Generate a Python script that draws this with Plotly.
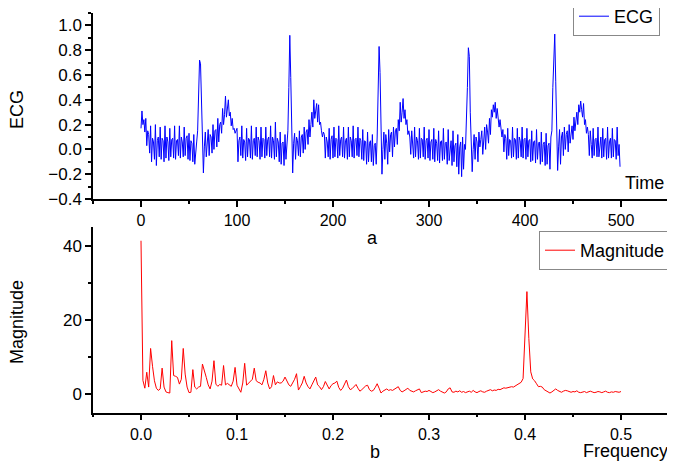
import plotly.graph_objects as go

# ECG samples (one per time step, 0..499)
ECG = [
    0.17, 0.31, 0.20, 0.24, 0.14, 0.25, 0.03, 0.15, 0.12, -0.03,
    0.19, -0.10, 0.09, 0.06, -0.08, 0.20, -0.13, 0.07, 0.10, -0.06,
    0.18, -0.08, 0.09, 0.07, -0.10, 0.19, -0.07, 0.10, 0.06, -0.09,
    0.17, -0.06, 0.08, 0.09, -0.07, 0.19, -0.08, 0.07, 0.08, -0.05,
    0.19, -0.07, 0.10, 0.06, -0.06, 0.18, -0.05, 0.09, 0.11, -0.08,
    0.13, -0.09, 0.07, 0.05, -0.10, 0.12, -0.12, 0.02, 0.06, 0.15,
    0.45, 0.72, 0.69, 0.42, 0.04, -0.19, 0.02, 0.14, -0.06, 0.10,
    0.16, -0.05, 0.12, 0.10, -0.03, 0.20, 0.00, 0.15, 0.16, 0.02,
    0.25, 0.06, 0.20, 0.22, 0.13, 0.33, 0.20, 0.28, 0.43, 0.26,
    0.34, 0.40, 0.27, 0.30, 0.19, 0.25, 0.16, 0.17, 0.13, 0.15,
    0.17, -0.10, 0.07, 0.10, -0.05, 0.19, -0.07, 0.08, 0.06, -0.09,
    0.17, -0.06, 0.09, 0.08, -0.07, 0.19, -0.08, 0.07, 0.09, -0.05,
    0.18, -0.06, 0.10, 0.07, -0.08, 0.18, -0.06, 0.09, 0.08, -0.07,
    0.18, -0.05, 0.08, 0.10, -0.06, 0.19, -0.07, 0.10, 0.07, -0.08,
    0.22, -0.06, 0.09, 0.06, -0.10, 0.14, -0.12, 0.05, 0.06, -0.13,
    0.12, -0.08, 0.04, 0.15, 0.50, 0.92, 0.58, 0.10, -0.19, 0.05,
    0.13, -0.08, 0.10, 0.07, -0.05, 0.15, -0.06, 0.10, 0.12, -0.03,
    0.18, 0.00, 0.14, 0.16, 0.04, 0.24, 0.10, 0.20, 0.30, 0.18,
    0.40, 0.25, 0.33, 0.37, 0.22, 0.36, 0.20, 0.22, 0.15, 0.10,
    0.14, 0.12, -0.07, 0.10, 0.06, -0.06, 0.17, -0.08, 0.08, 0.11,
    -0.07, 0.18, -0.06, 0.09, 0.08, -0.07, 0.19, -0.05, 0.08, 0.10,
    -0.06, 0.18, -0.07, 0.07, 0.09, -0.08, 0.18, -0.06, 0.10, 0.07,
    -0.06, 0.19, -0.07, 0.08, 0.09, -0.05, 0.18, -0.06, 0.09, 0.07,
    -0.08, 0.16, -0.09, 0.07, 0.06, -0.12, 0.14, -0.10, 0.05, 0.07,
    -0.10, 0.12, -0.13, 0.03, 0.05, -0.12, 0.10, 0.45, 0.83, 0.62,
    0.15, -0.20, 0.00, 0.14, -0.08, 0.12, 0.05, -0.12, 0.16, -0.02,
    0.12, 0.14, -0.06, 0.18, 0.02, 0.15, 0.17, 0.04, 0.24, 0.15,
    0.38, 0.22, 0.30, 0.41, 0.25, 0.32, 0.20, 0.24, 0.12, 0.15,
    0.10, -0.04, 0.15, 0.06, -0.07, 0.18, -0.06, 0.10, 0.07, -0.08,
    0.17, -0.07, 0.09, 0.08, -0.06, 0.18, -0.08, 0.07, 0.09, -0.07,
    0.16, -0.09, 0.06, 0.08, -0.08, 0.17, -0.10, 0.08, 0.05, -0.09,
    0.15, -0.11, 0.06, 0.07, -0.09, 0.17, -0.08, 0.05, 0.06, -0.12,
    0.16, -0.09, 0.04, 0.07, -0.13, 0.15, -0.10, 0.03, 0.05, -0.14,
    0.12, -0.20, 0.02, 0.06, -0.22, 0.10, -0.16, 0.04, 0.00, 0.20,
    0.50, 0.82, 0.75, 0.30, -0.05, -0.18, 0.00, 0.12, -0.08, 0.10,
    0.06, -0.10, 0.14, 0.02, 0.08, 0.15, -0.04, 0.12, 0.18, 0.00,
    0.20, 0.14, 0.05, 0.25, 0.12, 0.32, 0.26, 0.36, 0.30, 0.38,
    0.25, 0.33, 0.26, 0.18, 0.24, 0.14, 0.10, 0.16, -0.02, 0.12,
    0.09, -0.08, 0.17, -0.05, 0.08, 0.07, -0.07, 0.18, -0.06, 0.09,
    0.08, -0.08, 0.17, -0.07, 0.10, 0.07, -0.06, 0.18, -0.07, 0.08,
    0.09, -0.08, 0.17, -0.06, 0.07, 0.08, -0.10, 0.15, -0.09, 0.06,
    0.07, -0.11, 0.16, -0.08, 0.05, 0.06, -0.12, 0.14, -0.10, 0.04,
    0.06, -0.13, 0.13, -0.12, 0.03, 0.05, -0.16, 0.10, 0.15, 0.50,
    0.80, 0.93, 0.55, 0.05, -0.17, 0.02, 0.16, -0.12, 0.10, 0.14,
    -0.05, 0.18, 0.00, 0.12, 0.15, -0.02, 0.20, 0.05, 0.15, 0.19,
    0.08, 0.26, 0.15, 0.22, 0.30, 0.20, 0.36, 0.30, 0.39, 0.32,
    0.26, 0.37, 0.20, 0.24, 0.13, 0.18, 0.12, -0.05, 0.15, 0.04,
    -0.07, 0.17, -0.05, 0.08, 0.09, -0.06, 0.18, -0.06, 0.07, 0.10,
    -0.07, 0.17, -0.06, 0.08, 0.09, -0.08, 0.18, -0.07, 0.06, 0.09,
    -0.07, 0.17, -0.06, 0.08, 0.07, -0.08, 0.18, -0.05, 0.04, -0.14,
]
TIME = list(range(len(ECG)))

# spectrum magnitude, bins of 0.002 from 0 to 0.5
MAGNITUDE = [
    41.3, 3.7, 1.6, 5.9, 1.9, 12.3, 7.5, 3.6, 1.6, 1.0,
    1.4, 7.0, 1.9, 0.6, 0.4, 0.3, 14.4, 5.0, 4.8, 4.5,
    2.7, 4.0, 12.3, 5.4, 1.9, 0.4, 0.5, 6.6, 1.9, 1.4,
    1.9, 2.1, 8.1, 6.6, 4.5, 2.5, 1.4, 3.5, 9.0, 2.7,
    2.1, 2.6, 2.4, 7.7, 2.5, 2.9, 2.4, 2.1, 3.5, 7.2,
    2.4, 1.2, 0.5, 3.0, 8.3, 2.4, 2.9, 3.6, 4.0, 7.0,
    3.6, 3.2, 3.0, 2.5, 4.0, 6.3, 3.0, 1.4, 2.0, 5.0,
    2.5, 3.3, 3.0, 3.0, 3.5, 4.6, 3.3, 2.5, 2.1, 3.0,
    4.0, 5.5, 1.1, 2.0, 3.0, 4.8, 3.0, 2.0, 1.4, 2.5,
    3.8, 4.6, 2.5, 2.0, 1.2, 2.0, 3.4, 2.5, 1.4, 2.3,
    2.8, 3.0, 3.5, 1.8, 1.0, 1.6, 2.6, 3.8, 2.0, 1.2,
    1.5, 2.0, 2.6, 1.6, 0.8, 1.2, 1.8, 2.2, 2.4, 1.2,
    0.8, 1.0, 1.8, 2.8, 1.6, 0.3, 0.8, 1.2, 1.4, 1.0,
    1.2, 1.0, 1.4, 1.8, 2.0, 1.0, 0.6, 0.9, 1.3, 1.6,
    1.0, 0.8, 0.6, 0.9, 1.1, 1.4, 0.4, 0.6, 0.8, 0.7,
    1.0, 0.7, 0.4, 0.6, 0.9, 1.2, 0.8, 0.5, 0.3, 0.6,
    1.4, 1.7, 0.6, 0.5, 0.8, 0.6, 0.9, 0.5, 0.7, 0.4,
    0.6, 0.8, 0.5, 1.0, 0.6, 0.4, 0.7, 0.9, 0.6, 0.5,
    0.8, 1.0, 1.2, 0.9, 1.1, 1.0, 1.3, 1.2, 1.5, 1.7,
    1.6, 1.8, 1.9, 2.0, 1.9, 2.2, 2.4, 2.8, 3.2, 4.2,
    14.5, 27.6, 15.0, 6.0, 4.1, 3.6, 2.8, 2.0, 2.1, 1.9,
    1.2, 0.9, 0.6, 0.3, 0.6, 1.0, 1.4, 1.0, 0.7, 0.5,
    0.8, 1.0, 0.9, 0.6, 0.5, 0.7, 0.6, 0.9, 0.5, 0.4,
    0.6, 0.7, 0.4, 0.5, 0.8, 0.6, 0.4, 0.5, 0.7, 0.6,
    0.4, 0.6, 0.8, 0.5, 0.4, 0.6, 0.5, 0.7, 0.6, 0.5,
    0.7,
]
FREQ_STEP = 0.002
FREQ = [round(i * FREQ_STEP, 3) for i in range(len(MAGNITUDE))]

FONT = "Liberation Sans, Arial, sans-serif"
# the page body adds an 8px margin, so the figure is sized to fit the 675x465 window
OFF = 8
W, H = 675 - OFF, 465 - OFF
L, R = 93 - OFF, 6


def px(x):  # window pixel -> paper x
    return (x - OFF - L) / (W - L - R)


def py(y):  # window pixel -> paper y
    return 1 - (y - OFF) / H


fig = go.Figure()
fig.add_trace(go.Scatter(x=TIME, y=ECG, mode="lines", name="ECG",
                         line=dict(color="#0000ff", width=1),
                         xaxis="x", yaxis="y", legend="legend", showlegend=True))
fig.add_trace(go.Scatter(x=FREQ, y=MAGNITUDE, mode="lines", name="Magnitude",
                         line=dict(color="#ff0000", width=1),
                         xaxis="x2", yaxis="y2", legend="legend2", showlegend=True))

axis_common = dict(showgrid=False, zeroline=False, showline=True, linecolor="black",
                   linewidth=1.5, ticks="outside", ticklen=6, tickwidth=1.5,
                   tickcolor="black", automargin=False)
xtick_font = dict(family=FONT, size=16, color="black")
ytick_font = dict(family=FONT, size=17, color="black")
legend_common = dict(xanchor="right", yanchor="top", bordercolor="#888888",
                     borderwidth=1, bgcolor="white", tracegroupgap=0,
                     font=dict(family=FONT, size=18, color="black"))

fig.update_layout(
    width=W, height=H,
    margin=dict(l=L, r=R, t=0, b=0, autoexpand=False),
    paper_bgcolor="white", plot_bgcolor="white",
    font=dict(family=FONT, color="black"),
    showlegend=True,
    xaxis=dict(domain=[0, 1], anchor="y", range=[-50, 550], dtick=100,
               tickfont=xtick_font,
               minor=dict(dtick=50, ticks="outside", ticklen=3, tickcolor="black"),
               **axis_common),
    yaxis=dict(domain=[py(199), py(13)], anchor="x", range=[-0.4, 1.1], dtick=0.2,
               tickformat=".1f", tickfont=ytick_font,
               minor=dict(dtick=0.1, ticks="outside", ticklen=3, tickcolor="black"),
               **axis_common),
    xaxis2=dict(domain=[0, 1], anchor="y2", range=[-0.05, 0.55], dtick=0.1,
                tickformat=".1f", tickfont=xtick_font,
                minor=dict(dtick=0.05, ticks="outside", ticklen=3, tickcolor="black"),
                **axis_common),
    yaxis2=dict(domain=[py(412.7), py(227)], anchor="x2", range=[-5, 45], dtick=20,
                tickfont=ytick_font,
                minor=dict(dtick=10, ticks="outside", ticklen=3, tickcolor="black"),
                **axis_common),
    legend=dict(x=px(660), y=py(-3), **legend_common),
    legend2=dict(x=px(671), y=py(231), **legend_common),
)

labels = [
    ("ECG", px(17), py(110), "center", -90),
    ("Time", px(666), py(183), "right", 0),
    ("a", px(372.5), py(238), "center", 0),
    ("Magnitude", px(17), py(322), "center", -90),
    ("Frequency", px(670), py(451), "right", 0),
    ("b", px(375), py(452), "center", 0),
]
for text, x, y, anchor, angle in labels:
    fig.add_annotation(text=text, x=x, y=y, xref="paper", yref="paper",
                       xanchor=anchor, yanchor="middle", textangle=angle,
                       showarrow=False, font=dict(family=FONT, size=18, color="black"))

fig.write_html("out.html")
